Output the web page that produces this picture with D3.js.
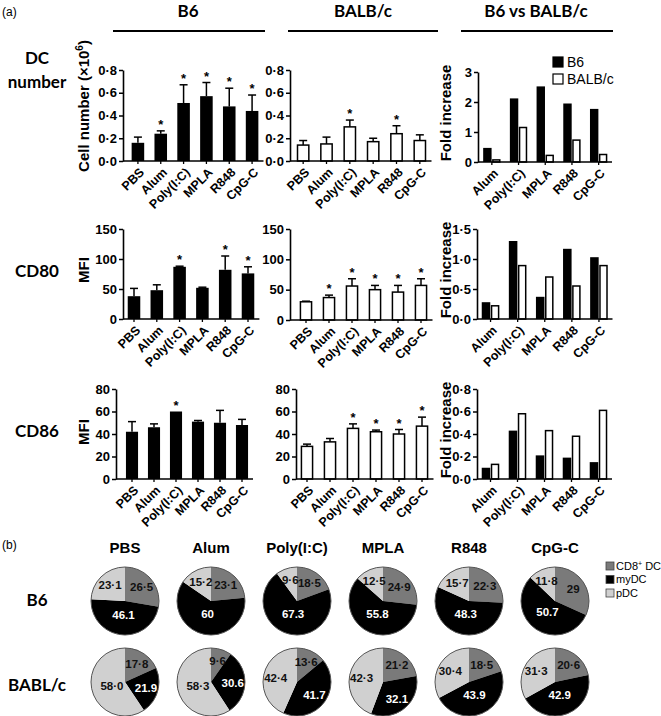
<!DOCTYPE html>
<html><head><meta charset="utf-8">
<script src="https://cdn.jsdelivr.net/npm/d3@7"></script>
<style>
body{margin:0;background:#fff}
svg{display:block}
</style></head><body>
<script>
// ---------------- DATA ----------------
const categories = ["PBS", "Alum", "Poly(I:C)", "MPLA", "R848", "CpG-C"];
const foldCategories = ["Alum", "Poly(I:C)", "MPLA", "R848", "CpG-C"];
const strains = ["B6", "BALB/c"];

// DC number (x10^6)
const b6DcMean = [0.16, 0.24, 0.51, 0.57, 0.48, 0.44];
const b6DcErr  = [0.05, 0.025, 0.16, 0.12, 0.16, 0.14];
const b6DcSig  = [0, 1, 1, 1, 1, 1];
const balbDcMean = [0.14, 0.15, 0.30, 0.17, 0.24, 0.18];
const balbDcErr  = [0.04, 0.06, 0.06, 0.03, 0.07, 0.05];
const balbDcSig  = [0, 0, 1, 0, 1, 0];
const foldDcB6   = [0.47, 2.12, 2.52, 1.95, 1.77];
const foldDcBalb = [0.07, 1.15, 0.22, 0.73, 0.25];

// CD80 MFI
const b6Cd80Mean = [38, 48, 87, 52, 82, 76];
const b6Cd80Err  = [13, 9, 1, 1, 23, 11];
const b6Cd80Sig  = [0, 0, 1, 0, 1, 1];
const balbCd80Mean = [30, 37, 56, 50, 46, 57];
const balbCd80Err  = [1, 4, 12, 7, 11, 11];
const balbCd80Sig  = [0, 1, 1, 1, 1, 1];
const foldCd80B6   = [0.28, 1.30, 0.37, 1.17, 1.03];
const foldCd80Balb = [0.22, 0.89, 0.70, 0.55, 0.89];

// CD86 MFI
const b6Cd86Mean = [42, 46, 60, 51, 50, 48];
const b6Cd86Err  = [9, 3, 0, 1, 11, 5];
const b6Cd86Sig  = [0, 0, 1, 0, 0, 0];
const balbCd86Mean = [29, 33, 45, 42, 40, 47];
const balbCd86Err  = [2, 3, 4, 1.5, 4, 8];
const balbCd86Sig  = [0, 0, 1, 1, 1, 1];
const foldCd86B6   = [0.10, 0.43, 0.21, 0.19, 0.15];
const foldCd86Balb = [0.13, 0.58, 0.43, 0.38, 0.61];

// Pie charts (b): DC subset percentages
const subsets = ["CD8⁺ DC", "myDC", "pDC"];
const b6Cd8  = ["26.5", "23.1", "18.5", "24.9", "22.3", "29"];
const b6My   = ["46.1", "60", "67.3", "55.8", "48.3", "50.7"];
const b6Pdc  = ["23.1", "15.2", "9.6", "12.5", "15.7", "11.8"];
const balbCd8 = ["17.8", "9.6", "13.6", "21.2", "18.5", "20.6"];
const balbMy  = ["21.9", "30.6", "41.7", "32.1", "43.9", "42.9"];
const balbPdc = ["58.0", "58.3", "42.4", "42.3", "30.4", "31.3"];

// Tick values
const ticksDc = [0, 0.2, 0.4, 0.6, 0.8];
const ticksFoldDc = [0, 1, 2, 3];
const ticksCd80 = [0, 50, 100, 150];
const ticksFoldCd80 = [0, 0.5, 1.0, 1.5];
const ticksCd86 = [0, 20, 40, 60, 80];
const ticksFoldCd86 = [0, 0.2, 0.4, 0.6, 0.8];

// ---------------- DRAWING ----------------
const W = 661, H = 716;
const svg = d3.select("body").append("svg").attr("width", W).attr("height", H);
const ARIAL = "'Liberation Sans', Arial, sans-serif";
const CAL = "Lato, 'Open Sans', sans-serif";
const dot1 = d => d3.format(".1f")(d).replace(".", "·");
const intf = d3.format("d");

function yAxis(g, y, ticks, fmt, axisX) {
  const ax = g.append("g").attr("transform", `translate(${axisX},0)`)
    .call(d3.axisLeft(y).tickValues(ticks).tickFormat(fmt).tickSize(4).tickSizeOuter(0).tickPadding(2));
  ax.select(".domain").attr("stroke", "#000").attr("stroke-width", 1.6);
  ax.selectAll(".tick line").attr("stroke", "#000").attr("stroke-width", 1.5);
  ax.selectAll("text").attr("font-family", ARIAL).attr("font-weight", "bold").attr("font-size", 13).attr("fill", "#000");
}

function xAxis(g, x, cats, axisX, x1, yBase) {
  g.append("line").attr("x1", axisX).attr("x2", x1).attr("y1", yBase).attr("y2", yBase)
    .attr("stroke", "#000").attr("stroke-width", 1.6);
  const tg = g.selectAll(".xt").data(cats).join("g")
    .attr("transform", d => `translate(${x(d) + x.bandwidth() / 2},${yBase})`);
  tg.append("line").attr("y2", 3).attr("stroke", "#000").attr("stroke-width", 1.3);
  tg.append("text").text(d => d)
    .attr("transform", "translate(4,9) rotate(-45)")
    .attr("text-anchor", "end").attr("dy", "0.35em")
    .attr("font-family", ARIAL).attr("font-weight", "bold").attr("font-size", 12.5);
}

function yLabel(text, cx, cy, sup) {
  const t = svg.append("text").attr("transform", `translate(${cx},${cy}) rotate(-90)`)
    .attr("text-anchor", "middle").attr("font-family", ARIAL).attr("font-weight", "bold").attr("font-size", 15);
  t.append("tspan").text(text);
  if (sup) {
    t.append("tspan").text(sup.s).attr("font-size", 10).attr("dy", -6);
    t.append("tspan").text(sup.after).attr("dy", 6);
  }
}

function barPanel(cfg, means, errs, sig, filled) {
  const g = svg.append("g");
  const x = d3.scaleBand().domain(categories).range([cfg.x0, cfg.x1]).paddingInner(0.45).paddingOuter(0.225);
  const y = d3.scaleLinear().domain([0, cfg.max]).range([cfg.yBot, cfg.yTop]);
  const data = categories.map((c, i) => ({c, m: means[i], e: errs[i], s: sig[i]}));
  data.forEach(d => {
    const cx = x(d.c) + x.bandwidth() / 2;
    if (d.e > 0) {
      g.append("line").attr("x1", cx).attr("x2", cx).attr("y1", y(d.m)).attr("y2", y(d.m + d.e))
        .attr("stroke", "#000").attr("stroke-width", 1.5);
      g.append("line").attr("x1", cx - 4).attr("x2", cx + 4).attr("y1", y(d.m + d.e)).attr("y2", y(d.m + d.e))
        .attr("stroke", "#000").attr("stroke-width", 1.5);
    }
  });
  g.selectAll(".bar").data(data).join("rect")
    .attr("x", d => x(d.c) + (filled ? 0 : 0.75)).attr("width", x.bandwidth() - (filled ? 0 : 1.5))
    .attr("y", d => y(d.m)).attr("height", d => y(0) - y(d.m))
    .attr("fill", filled ? "#000" : "#fff").attr("stroke", "#000").attr("stroke-width", filled ? 0 : 1.5);
  g.selectAll(".star").data(data.filter(d => d.s)).join("text")
    .attr("x", d => x(d.c) + x.bandwidth() / 2).attr("y", d => y(d.m + d.e) - 2)
    .attr("text-anchor", "middle").attr("font-family", ARIAL).attr("font-weight", "bold").attr("font-size", 13)
    .attr("fill", "#000")
    .text("*");
  xAxis(g, x, categories, cfg.axisX, cfg.x1, cfg.yBot);
  yAxis(g, y, cfg.ticks, cfg.fmt, cfg.axisX);
}

function foldPanel(cfg, b6v, balbv) {
  const g = svg.append("g");
  const x = d3.scaleBand().domain(foldCategories).range([cfg.x0, cfg.x1]).paddingInner(0.35).paddingOuter(0.175);
  const xs = d3.scaleBand().domain(strains).range([0, x.bandwidth()]).paddingInner(0.06);
  const y = d3.scaleLinear().domain([0, cfg.max]).range([cfg.yBot, cfg.yTop]);
  const data = [];
  foldCategories.forEach((c, i) => {
    data.push({c, s: "B6", v: b6v[i]});
    data.push({c, s: "BALB/c", v: balbv[i]});
  });
  g.selectAll(".fb").data(data).join("rect")
    .attr("x", d => x(d.c) + xs(d.s) + (d.s === "B6" ? 0 : 0.75))
    .attr("width", d => xs.bandwidth() - (d.s === "B6" ? 0 : 1.5))
    .attr("y", d => y(d.v)).attr("height", d => y(0) - y(d.v))
    .attr("fill", d => d.s === "B6" ? "#000" : "#fff")
    .attr("stroke", "#000").attr("stroke-width", d => d.s === "B6" ? 0 : 1.5);
  xAxis(g, x, foldCategories, cfg.axisX, cfg.x1, cfg.yBot);
  yAxis(g, y, cfg.ticks, cfg.fmt, cfg.axisX);
}

// Headers
svg.append("text").text("(a)").attr("x", 2).attr("y", 16).attr("font-family", ARIAL).attr("font-size", 12);
[["B6", 188, 113, 265], ["BALB/c", 363, 288, 438], ["B6 vs BALB/c", 536, 461, 613]].forEach(([t, cx, a, b]) => {
  svg.append("text").text(t).attr("x", cx).attr("y", 17).attr("text-anchor", "middle")
    .attr("font-family", CAL).attr("font-weight", "bold").attr("font-size", 17);
  svg.append("line").attr("x1", a).attr("x2", b).attr("y1", 31).attr("y2", 31).attr("stroke", "#000").attr("stroke-width", 2);
});

function rowLabel(t, cy) {
  svg.append("text").text(t).attr("x", 37).attr("y", cy).attr("dy", "0.36em").attr("text-anchor", "middle")
    .attr("font-family", CAL).attr("font-weight", "bold").attr("font-size", 17);
}
rowLabel("DC", 58); rowLabel("number", 82); rowLabel("CD80", 271); rowLabel("CD86", 431);

// Row 1
barPanel({axisX: 123, x0: 126.5, x1: 263.5, yTop: 70, yBot: 161, max: 0.8, ticks: ticksDc, fmt: dot1}, b6DcMean, b6DcErr, b6DcSig, true);
barPanel({axisX: 290, x0: 291.5, x1: 431.5, yTop: 70, yBot: 161, max: 0.8, ticks: ticksDc, fmt: dot1}, balbDcMean, balbDcErr, balbDcSig, false);
foldPanel({axisX: 478, x0: 478.5, x1: 612, yTop: 72, yBot: 162, max: 3, ticks: ticksFoldDc, fmt: intf}, foldDcB6, foldDcBalb);
yLabel("Cell number (×10", 89, 106, {s: "6", after: ")"});
yLabel("Fold increase", 451, 113);

[["B6", "#000", 57], ["BALB/c", "#fff", 74]].forEach(([t, f, yy]) => {
  svg.append("rect").attr("x", 553).attr("y", yy).attr("width", 10).attr("height", 10)
    .attr("fill", f).attr("stroke", "#000").attr("stroke-width", 1.2);
  svg.append("text").text(t).attr("x", 567).attr("y", yy + 5).attr("dy", "0.36em")
    .attr("font-family", ARIAL).attr("font-size", 14);
});

// Row 2
barPanel({axisX: 123, x0: 122.6, x1: 259.4, yTop: 229, yBot: 319, max: 150, ticks: ticksCd80, fmt: intf}, b6Cd80Mean, b6Cd80Err, b6Cd80Sig, true);
barPanel({axisX: 290, x0: 294.5, x1: 432.5, yTop: 229, yBot: 320, max: 150, ticks: ticksCd80, fmt: intf}, balbCd80Mean, balbCd80Err, balbCd80Sig, false);
foldPanel({axisX: 477, x0: 477, x1: 612.5, yTop: 229, yBot: 319, max: 1.5, ticks: ticksFoldCd80, fmt: dot1}, foldCd80B6, foldCd80Balb);
yLabel("MFI", 89, 270);
yLabel("Fold increase", 451, 270);

// Row 3
barPanel({axisX: 116, x0: 121, x1: 253, yTop: 389, yBot: 479, max: 80, ticks: ticksCd86, fmt: intf}, b6Cd86Mean, b6Cd86Err, b6Cd86Sig, true);
barPanel({axisX: 296, x0: 295.5, x1: 433.5, yTop: 389, yBot: 479, max: 80, ticks: ticksCd86, fmt: intf}, balbCd86Mean, balbCd86Err, balbCd86Sig, false);
foldPanel({axisX: 477, x0: 477, x1: 612, yTop: 389, yBot: 479, max: 0.8, ticks: ticksFoldCd86, fmt: dot1}, foldCd86B6, foldCd86Balb);
yLabel("MFI", 89, 432);
yLabel("Fold increase", 451, 430);

// ---------------- (b) pies ----------------
svg.append("text").text("(b)").attr("x", 2).attr("y", 549).attr("font-family", ARIAL).attr("font-size", 12);
const pieColors = d3.scaleOrdinal().domain(subsets).range(["#7a7a7a", "#000", "#d0d0d0"]);
const labelColors = d3.scaleOrdinal().domain(subsets).range(["#111", "#fff", "#111"]);
const px = d3.scalePoint().domain(categories).range([125, 555]);
const R = 34;
const pie = d3.pie().sort(null).value(d => +d.v);
const arc = d3.arc().innerRadius(0).outerRadius(R);

categories.forEach(c => {
  svg.append("text").text(c).attr("x", px(c)).attr("y", 553).attr("text-anchor", "middle")
    .attr("font-family", ARIAL).attr("font-weight", "bold").attr("font-size", 15);
});
rowLabel("B6", 600);
rowLabel("BABL/c", 685);

function pieRow(cy, cd8, my, pdc) {
  categories.forEach((c, i) => {
    const d = [{k: subsets[0], v: cd8[i]}, {k: subsets[1], v: my[i]}, {k: subsets[2], v: pdc[i]}];
    const g = svg.append("g").attr("transform", `translate(${px(c)},${cy})`);
    const arcs = pie(d);
    const tot = d3.sum(d, e => +e.v);
    g.selectAll("path").data(arcs).join("path").attr("d", arc).attr("fill", a => pieColors(a.data.k));
    g.append("circle").attr("r", R).attr("fill", "none").attr("stroke", "#555").attr("stroke-width", 1);
    g.selectAll("text").data(arcs).join("text")
      .attr("transform", a => {
        const lr = (+a.data.v / tot > 0.45) ? R * 0.4 : R * 0.64;
        const m = (a.startAngle + a.endAngle) / 2;
        return `translate(${Math.sin(m) * lr},${-Math.cos(m) * lr})`;
      })
      .attr("text-anchor", "middle").attr("dy", "0.36em")
      .attr("font-family", ARIAL).attr("font-weight", "bold").attr("font-size", 11.5)
      .attr("fill", a => labelColors(a.data.k))
      .text(a => a.data.k === "myDC" ? a.data.v : a.data.v.replace(".", "·"));
  });
}
pieRow(601, b6Cd8, b6My, b6Pdc);
pieRow(682, balbCd8, balbMy, balbPdc);

// pie legend
subsets.forEach((s, i) => {
  const yy = 562 + i * 13.5;
  svg.append("rect").attr("x", 606).attr("y", yy).attr("width", 8).attr("height", 8)
    .attr("fill", pieColors(s)).attr("stroke", "#444").attr("stroke-width", 0.8);
  const t = svg.append("text").attr("x", 616).attr("y", yy + 4).attr("dy", "0.36em")
    .attr("font-family", ARIAL).attr("font-size", 11);
  if (i === 0) {
    t.append("tspan").text("CD8");
    t.append("tspan").text("+").attr("font-size", 7).attr("dy", -4);
    t.append("tspan").text(" DC").attr("dy", 4);
  } else t.text(s);
});
</script>
</body></html>
